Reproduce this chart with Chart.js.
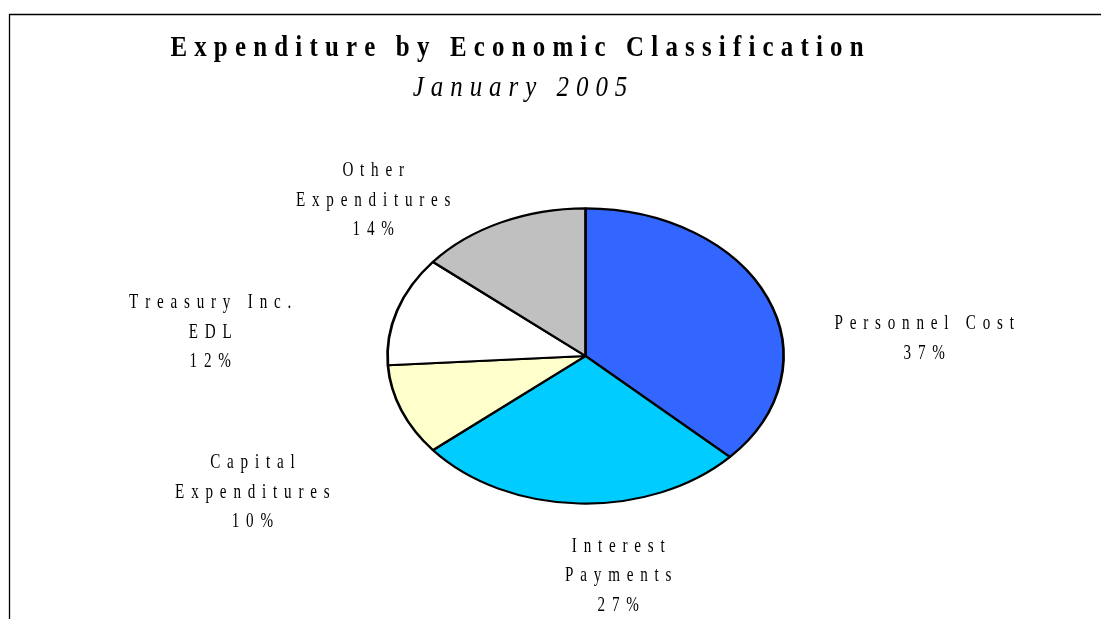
<!DOCTYPE html>
<html>
<head>
<meta charset="utf-8">
<script src="https://cdn.jsdelivr.net/npm/chart.js@4.4.1/dist/chart.umd.min.js"></script>
<style>
    html, body { margin: 0; padding: 0; background: #fff; }
    #chart { display: block; }
</style>
</head>
<body>
<canvas id="chart" width="1101" height="619"></canvas>
<script>
// Chart data
const categories = ["Personnel Cost", "Interest Payments", "Capital Expenditures", "Treasury Inc. EDL", "Other Expenditures"];
const shares = [37, 27, 10, 12, 14];
const labelLines = [
    ["Personnel Cost"],
    ["Interest", "Payments"],
    ["Capital", "Expenditures"],
    ["Treasury Inc.", "EDL"],
    ["Other", "Expenditures"],
];
const sliceColors = ["#3366FF", "#00CCFF", "#FFFFCC", "#FFFFFF", "#C0C0C0"];

const titleText = "Expenditure by Economic Classification";
const subtitleText = "January 2005";

// layout (first-line baseline offset of each label from the slice's outer mid point)
const labelOffsets = [[157, 32], [39, 48], [-149, 58], [-187, -2], [-128, -46]];
const pieRadius = 198;
const yScale = 148 / 198.5; // the pie is drawn as an ellipse
const serif = '"Liberation Serif", "Times New Roman", serif';

// Helper: draw centred text with letter spacing and horizontally condensed glyphs
function spacedText(ctx, text, cx, y, font, spacing, sx) {
    ctx.save();
    ctx.font = font;
    ctx.textAlign = "left";
    ctx.textBaseline = "alphabetic";
    ctx.fillStyle = "#000";
    const chars = [...text];
    const widths = chars.map((c) => ctx.measureText(c).width * sx);
    const total = widths.reduce((a, b) => a + b, 0) + spacing * (chars.length - 1);
    let x = cx - total / 2;
    chars.forEach((c, i) => {
        ctx.save();
        ctx.translate(x, y);
        ctx.scale(sx, 1);
        ctx.fillText(c, 0, 0);
        ctx.restore();
        x += widths[i] + spacing;
    });
    ctx.restore();
}

const ellipsePlugin = {
    id: "ellipse",
    beforeDraw(chart) {
        const ctx = chart.ctx;
        // frame lines (top and left)
        ctx.save();
        ctx.strokeStyle = "#000";
        ctx.lineWidth = 1.3;
        ctx.beginPath();
        ctx.moveTo(9.5, 619);
        ctx.lineTo(9.5, 14.5);
        ctx.lineTo(1101, 14.5);
        ctx.stroke();
        ctx.restore();

        spacedText(ctx, titleText, 517, 56, "bold 30px " + serif, 7.2, 0.83);
        spacedText(ctx, subtitleText, 520, 96, "italic 30px " + serif, 7.0, 0.83);
    },
    beforeDatasetsDraw(chart) {
        const arc = chart.getDatasetMeta(0).data[0];
        const ctx = chart.ctx;
        ctx.save();
        ctx.translate(arc.x, arc.y);
        ctx.scale(1, yScale);
        ctx.translate(-arc.x, -arc.y);
    },
    afterDatasetsDraw(chart) {
        chart.ctx.restore();
    },
    afterDraw(chart) {
        const ctx = chart.ctx;
        chart.getDatasetMeta(0).data.forEach((arc, i) => {
            const { x, y, startAngle, endAngle, outerRadius } = arc.getProps(["x", "y", "startAngle", "endAngle", "outerRadius"], true);
            const mid = (startAngle + endAngle) / 2;
            const ax = x + outerRadius * Math.cos(mid) + labelOffsets[i][0];
            const ay = y + outerRadius * Math.sin(mid) * yScale + labelOffsets[i][1];
            const lines = labelLines[i].concat([shares[i] + "%"]);
            lines.forEach((line, j) => {
                spacedText(ctx, line, ax, ay + j * 29.5, "21px " + serif, 6.8, 0.72);
            });
        });
    },
};

new Chart(document.getElementById("chart"), {
    type: "pie",
    data: {
        labels: categories,
        datasets: [
            {
                data: shares,
                backgroundColor: sliceColors,
                borderColor: "#000",
                borderWidth: 2.7,
            },
        ],
    },
    options: {
        responsive: false,
        animation: false,
        radius: pieRadius,
        layout: { padding: { left: 70, right: 0, top: 93, bottom: 0 } },
        plugins: {
            legend: { display: false },
            tooltip: { enabled: false },
            title: { display: false },
        },
    },
    plugins: [ellipsePlugin],
});
</script>
</body>
</html>
